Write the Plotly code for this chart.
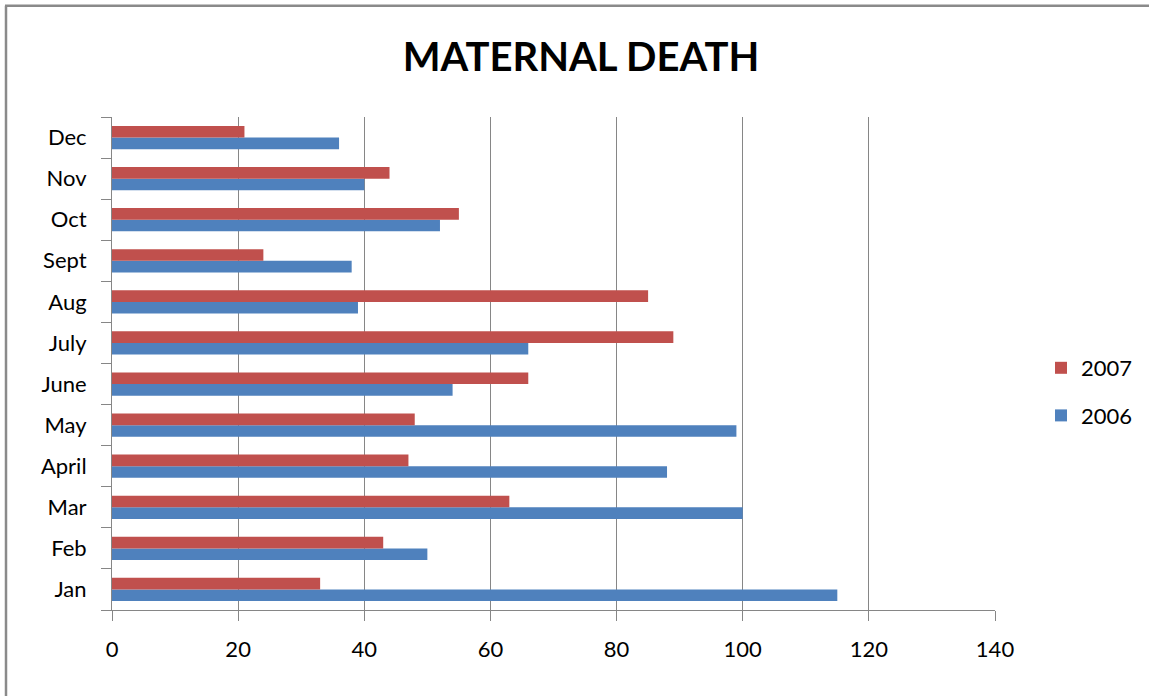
import plotly.graph_objects as go

months = ["Jan", "Feb", "Mar", "April", "May", "June", "July", "Aug", "Sept", "Oct", "Nov", "Dec"]
deaths_2006 = [115, 50, 100, 88, 99, 54, 66, 39, 38, 52, 40, 36]
deaths_2007 = [33, 43, 63, 47, 48, 66, 89, 85, 24, 55, 44, 21]
x_ticks = [0, 20, 40, 60, 80, 100, 120, 140]

W, H = 1149, 696
L, R, T, B = 112, 154, 117, 86
pw, ph = W - L - R, H - T - B

def px_x(px):
    return (px - L) / pw

def px_y(py):
    return (H - B - py) / ph

FONT = "Lato"
GRID = "#868686"

fig = go.Figure()
fig.add_trace(go.Bar(y=months, x=deaths_2006, name="2006", orientation="h",
                     marker=dict(color="#4F81BD", line=dict(width=0)),
                     legendgroup="g2006", legendrank=2))
fig.add_trace(go.Bar(y=months, x=deaths_2007, name="2007", orientation="h",
                     marker=dict(color="#C0504D", line=dict(width=0)),
                     legendgroup="g2007", legendrank=1))

# chart frame (left and top edges)
frame = dict(color="#8A8A8A", width=2.5)
fig.add_shape(type="line", xref="paper", yref="paper",
              x0=px_x(6), x1=px_x(6), y0=px_y(5.8), y1=px_y(720), line=frame)
fig.add_shape(type="line", xref="paper", yref="paper",
              x0=px_x(5), x1=px_x(1170), y0=px_y(5.8), y1=px_y(5.8), line=frame)

fig.update_layout(
    width=W, height=H,
    margin=dict(l=L, r=R, t=T, b=B, pad=0, autoexpand=False),
    paper_bgcolor="white", plot_bgcolor="white",
    barmode="group", bargap=0.433, bargroupgap=0,
    title=dict(text="<b>MATERNAL DEATH</b>", x=581 / W, xanchor="center",
               y=1 - 57 / H, yanchor="middle",
               font=dict(family=FONT, size=40, color="black")),
    font=dict(family=FONT, size=22, color="black"),
    legend=dict(x=px_x(1041), xanchor="left", y=px_y(392), yanchor="middle",
                traceorder="grouped", tracegroupgap=16,
                font=dict(family=FONT, size=22, color="black"),
                bgcolor="rgba(0,0,0,0)"),
    xaxis=dict(range=[0, 140], tickvals=x_ticks, showgrid=True, gridcolor=GRID,
               gridwidth=1, showline=True, linecolor=GRID, linewidth=1,
               ticks="outside", ticklen=10, tickcolor=GRID, tickwidth=1,
               ticklabelstandoff=10, zeroline=False, fixedrange=True),
    yaxis=dict(type="category", categoryorder="array", categoryarray=months,
               showgrid=False, showline=True, linecolor=GRID, linewidth=1,
               ticks="outside", ticklen=10, tickcolor=GRID, tickwidth=1,
               tickson="boundaries", ticklabelstandoff=20, fixedrange=True),
)

fig.write_html("out.html")
